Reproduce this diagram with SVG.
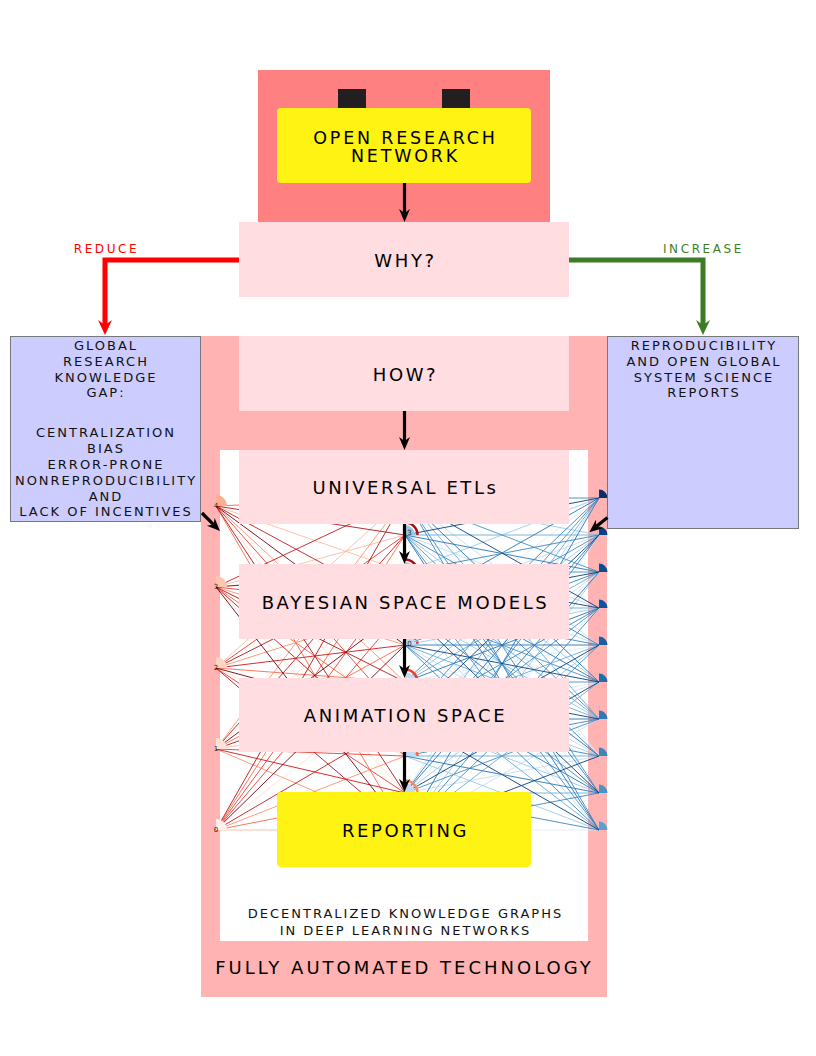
<svg xmlns="http://www.w3.org/2000/svg" width="816" height="1056" viewBox="0 0 816 1056">
<defs>
<style>
text{font-family:"DejaVu Sans","Liberation Sans",sans-serif}
.big{font-size:18px;letter-spacing:2.6px;fill:#000;text-anchor:middle}
.sm{font-size:13px;letter-spacing:2px;fill:#111;text-anchor:middle}
.lab{font-size:12px;letter-spacing:2.6px;text-anchor:middle}
.nl{font-size:7px;fill:#222;text-anchor:middle}
.pk{fill:#ffdde0}
.yl{fill:#fff314}
.bx{fill:#ccccff;stroke:#77787b;stroke-width:1}
.net path{fill:none;stroke-width:0.9}
.r0{stroke:#fee0d2}.r1{stroke:#fcbba1}.r2{stroke:#fc9272}.r3{stroke:#fb6a4a}
.r4{stroke:#ef3b2c}.r5{stroke:#cb181d}.r6{stroke:#b3141b}.r7{stroke:#74000f}
.b0{stroke:#deebf7}.b1{stroke:#c6dbef}.b2{stroke:#9ecae1}.b3{stroke:#6baed6}
.b4{stroke:#4292c6}.b5{stroke:#2a74b5}.b6{stroke:#3a86c0}.b7{stroke:#0b3f7c}
.arc{fill:none;stroke-width:2.5}
.arr{fill:none;stroke:#000;stroke-width:3.2;marker-end:url(#ahk)}
</style>
<marker id="ahk" viewBox="-14 -7 15 14" refX="-9" refY="0" markerWidth="15" markerHeight="14" markerUnits="userSpaceOnUse" orient="auto"><path d="M0,0L-13,-5.5L-9,0L-13,5.5Z" fill="#000"/></marker>
<marker id="ahr" viewBox="-16 -8 17 16" refX="-10" refY="0" markerWidth="17" markerHeight="16" markerUnits="userSpaceOnUse" orient="auto"><path d="M0,0L-15,-7L-10,0L-15,7Z" fill="#ff0000"/></marker>
<marker id="ahg" viewBox="-16 -8 17 16" refX="-10" refY="0" markerWidth="17" markerHeight="16" markerUnits="userSpaceOnUse" orient="auto"><path d="M0,0L-15,-7L-10,0L-15,7Z" fill="#3d7c24"/></marker>
</defs>

<g id="node-orn">
<rect x="258" y="70" width="292" height="152" fill="#ff8080"/>
<rect x="338" y="89" width="28" height="19" fill="#231f20"/>
<rect x="442" y="89" width="28" height="19" fill="#231f20"/>
<rect x="277" y="108" width="254" height="75" rx="4" class="yl"/>
<text class="big" x="405.5" y="144" style="font-size:17.5px;letter-spacing:2.8px">OPEN RESEARCH</text>
<text class="big" x="405.5" y="162" style="font-size:17.5px;letter-spacing:2.8px">NETWORK</text>
</g>

<g id="node-why">
<rect x="239" y="222" width="330" height="75" class="pk"/>
<text class="big" x="405.5" y="266.5">WHY?</text>
</g>

<g id="frame">
<rect x="201" y="336" width="406" height="661" fill="#ffb3b3"/>
<rect x="220" y="450" width="368" height="491" fill="#ffffff"/>
<text class="big" x="404.5" y="973.5" style="letter-spacing:3px">FULLY AUTOMATED TECHNOLOGY</text>
<text class="sm" x="405.5" y="917.5">DECENTRALIZED KNOWLEDGE GRAPHS</text>
<text class="sm" x="405.5" y="934.5">IN DEEP LEARNING NETWORKS</text>
</g>

<g id="network" class="net">
<path class="r0" d="M216,506L405,756M216,587L405,793M216,668L405,756M216,749L405,572M216,830L405,682"/>
<path class="r1" d="M216,506L405,572M216,587L405,535M216,668L405,498M216,749L405,719M216,830L405,830"/>
<path class="r2" d="M216,506L405,682M216,587L405,645M216,668L405,608M216,749L405,498M216,749L405,830M216,830L405,756"/>
<path class="r3" d="M216,506L405,498M216,506L405,830M216,587L405,719M216,668L405,682M216,749L405,645M216,830L405,535M216,830L405,793"/>
<path class="r4" d="M216,506L405,719M216,587L405,608M216,668L405,535M216,668L405,793M216,749L405,756M216,830L405,572M216,830L405,608"/>
<path class="r5" d="M216,506L405,608M216,587L405,498M216,587L405,756M216,668L405,645M216,749L405,535M216,749L405,793M216,830L405,719"/>
<path class="r6" d="M216,506L405,535M216,506L405,793M216,587L405,682M216,668L405,572M216,668L405,830M216,749L405,682M216,830L405,498"/>
<path class="r7" d="M216,506L405,645M216,587L405,572M216,587L405,830M216,668L405,719M216,749L405,608M216,830L405,645"/>
<path class="b0" d="M405,498L599,756M405,535L599,756M405,572L599,793M405,645L599,498M405,682L599,645M405,719L599,682M405,756L599,572M405,793L599,608M405,830L599,535M405,830L599,830"/>
<path class="b1" d="M405,498L599,645M405,535L599,608M405,572L599,645M405,608L599,535M405,608L599,830M405,645L599,756M405,719L599,572M405,756L599,682M405,793L599,498M405,793L599,756M405,830L599,719"/>
<path class="b2" d="M405,498L599,535M405,535L599,682M405,572L599,498M405,608L599,719M405,645L599,608M405,682L599,535M405,682L599,756M405,719L599,793M405,756L599,830M405,793L599,645M405,830L599,572"/>
<path class="b3" d="M405,498L599,719M405,535L599,535M405,572L599,719M405,608L599,608M405,645L599,719M405,682L599,572M405,682L599,830M405,719L599,645M405,756L599,498M405,756L599,756M405,793L599,793M405,830L599,682"/>
<path class="b4" d="M405,498L599,572M405,498L599,793M405,535L599,719M405,572L599,572M405,572L599,830M405,608L599,682M405,645L599,535M405,645L599,793M405,682L599,682M405,719L599,498M405,756L599,608M405,793L599,719M405,830L599,645"/>
<path class="b5" d="M405,498L599,682M405,535L599,572M405,535L599,830M405,572L599,682M405,608L599,498M405,608L599,756M405,645L599,645M405,682L599,608M405,682L599,793M405,719L599,719M405,756L599,535M405,756L599,793M405,793L599,572M405,830L599,498"/>
<path class="b6" d="M405,498L599,498M405,498L599,830M405,535L599,645M405,535L599,793M405,572L599,535M405,572L599,756M405,608L599,645M405,645L599,572M405,645L599,830M405,682L599,498M405,719L599,608M405,719L599,756M405,756L599,719M405,793L599,535M405,793L599,830M405,830L599,608M405,830L599,793"/>
<path class="b7" d="M405,498L599,608M405,535L599,498M405,572L599,608M405,608L599,572M405,608L599,793M405,645L599,682M405,682L599,719M405,719L599,535M405,719L599,830M405,756L599,645M405,793L599,682M405,830L599,756"/>
</g>

<g id="input-nodes">
<path d="M216,506V495A11,11 0 0 1 227,506Z" fill="#fcae91"/>
<path d="M216,587V576A11,11 0 0 1 227,587Z" fill="#fcc5b0"/>
<path d="M216,668V657A11,11 0 0 1 227,668Z" fill="#fdd5c3"/>
<path d="M216,749V738A11,11 0 0 1 227,749Z" fill="#fee2d5"/>
<path d="M216,830V819A11,11 0 0 1 227,830Z" fill="#fff0e9"/>
<text class="nl" x="216" y="508">4</text>
<text class="nl" x="216" y="589">3</text>
<text class="nl" x="216" y="670">2</text>
<text class="nl" x="216" y="751">1</text>
<text class="nl" x="216" y="832">0</text>
</g>

<g id="hidden-nodes">
<path d="M405,498V488A10,10 0 0 1 415,498Z" fill="#c6dbef"/>
<path d="M405,535V525A10,10 0 0 1 415,535Z" fill="#9ecae1"/>
<path class="arc" d="M405,522.5A12.5,12.5 0 0 1 417.5,535" stroke="#a50f15"/>
<path d="M405,572V562A10,10 0 0 1 415,572Z" fill="#9ecae1"/>
<path class="arc" d="M405,559.5A12.5,12.5 0 0 1 417.5,572" stroke="#a50f15"/>
<path d="M405,608V598A10,10 0 0 1 415,608Z" fill="#c6dbef"/>
<path d="M405,645V635A10,10 0 0 1 415,645Z" fill="#c6dbef"/>
<path class="arc" d="M414.6,637A12.5,12.5 0 0 1 417.45,643.9" stroke="#ef3b2c" stroke-dasharray="3 2"/>
<path d="M405,682V672A10,10 0 0 1 415,682Z" fill="#c6dbef"/>
<path class="arc" d="M405,669.5A12.5,12.5 0 0 1 417.5,682" stroke="#ef3b2c"/>
<path d="M405,719V709A10,10 0 0 1 415,719Z" fill="#c6dbef"/>
<path d="M405,756V746A10,10 0 0 1 415,756Z" fill="#c6dbef"/>
<path class="arc" d="M416.7,751.7A12.5,12.5 0 0 1 417.5,756" stroke="#fb6a4a"/>
<path d="M405,793V783A10,10 0 0 1 415,793Z" fill="#c6dbef"/>
<path class="arc" d="M405,780.5A12.5,12.5 0 0 1 417.5,793" stroke="#fc8d59"/>
<path d="M405,830V820A10,10 0 0 1 415,830Z" fill="#c6dbef"/>
<text class="nl" x="409.5" y="535">3</text>
<text class="nl" x="409.5" y="646">0</text>
</g>

<g id="output-nodes">
<path d="M599,498V489.5A8.5,8.5 0 0 1 607.5,498Z" fill="#08306b"/>
<path d="M599,535V526.5A8.5,8.5 0 0 1 607.5,535Z" fill="#08408a"/>
<path d="M599,572V563.5A8.5,8.5 0 0 1 607.5,572Z" fill="#084d96"/>
<path d="M599,608V599.5A8.5,8.5 0 0 1 607.5,608Z" fill="#0a56a0"/>
<path d="M599,645V636.5A8.5,8.5 0 0 1 607.5,645Z" fill="#1361a9"/>
<path d="M599,682V673.5A8.5,8.5 0 0 1 607.5,682Z" fill="#1f6eb2"/>
<path d="M599,719V710.5A8.5,8.5 0 0 1 607.5,719Z" fill="#2b7bba"/>
<path d="M599,756V747.5A8.5,8.5 0 0 1 607.5,756Z" fill="#3a88c0"/>
<path d="M599,793V784.5A8.5,8.5 0 0 1 607.5,793Z" fill="#4895c7"/>
<path d="M599,830V821.5A8.5,8.5 0 0 1 607.5,830Z" fill="#5aa2ce"/>
</g>

<g id="node-how">
<rect x="239" y="336" width="330" height="75" class="pk"/>
<text class="big" x="405.5" y="380.5">HOW?</text>
</g>
<g id="node-etl">
<rect x="239" y="450" width="330" height="74" class="pk"/>
<text class="big" x="405.5" y="494">UNIVERSAL ETLs</text>
</g>
<g id="node-bayes">
<rect x="239" y="564" width="330" height="75" class="pk"/>
<text class="big" x="405.5" y="608.5">BAYESIAN SPACE MODELS</text>
</g>
<g id="node-anim">
<rect x="239" y="678" width="330" height="74" class="pk"/>
<text class="big" x="405.5" y="722">ANIMATION SPACE</text>
</g>
<g id="node-report">
<rect x="277" y="792" width="254" height="75" rx="4" class="yl"/>
<text class="big" x="405.5" y="836.5">REPORTING</text>
</g>

<g id="node-gap">
<rect x="10.5" y="336.5" width="190" height="185" class="bx"/>
<text class="sm" x="106" y="349.5">GLOBAL</text>
<text class="sm" x="106" y="365.5">RESEARCH</text>
<text class="sm" x="106" y="381.5">KNOWLEDGE</text>
<text class="sm" x="106" y="397">GAP:</text>
<text class="sm" x="106" y="436.5">CENTRALIZATION</text>
<text class="sm" x="106" y="452.5">BIAS</text>
<text class="sm" x="106" y="468.5">ERROR-PRONE</text>
<text class="sm" x="106" y="484.5">NONREPRODUCIBILITY</text>
<text class="sm" x="106" y="500.5">AND</text>
<text class="sm" x="106" y="516">LACK OF INCENTIVES</text>
</g>

<g id="node-repro">
<rect x="607.5" y="336.5" width="191" height="192" class="bx"/>
<text class="sm" x="704" y="350">REPRODUCIBILITY</text>
<text class="sm" x="704" y="366">AND OPEN GLOBAL</text>
<text class="sm" x="704" y="381.5">SYSTEM SCIENCE</text>
<text class="sm" x="704" y="397">REPORTS</text>
</g>

<g id="connectors">
<path class="arr" d="M404.5,183V213"/>
<path class="arr" d="M404.5,411V441"/>
<path class="arr" d="M404.5,524V555"/>
<path class="arr" d="M404.5,639V669"/>
<path class="arr" d="M404.5,752V783"/>
<path class="arr" d="M202,513L213.6,524.6"/>
<path class="arr" d="M607.5,517.5L596.3,526.6"/>
<path d="M239,260H105V325" fill="none" stroke="#ff0000" stroke-width="5" marker-end="url(#ahr)"/>
<path d="M569,260H703V325" fill="none" stroke="#3d7c24" stroke-width="5" marker-end="url(#ahg)"/>
<text class="lab" x="106.5" y="253" fill="#ff0000">REDUCE</text>
<text class="lab" x="703.5" y="253" fill="#3f7f25">INCREASE</text>
</g>
</svg>
